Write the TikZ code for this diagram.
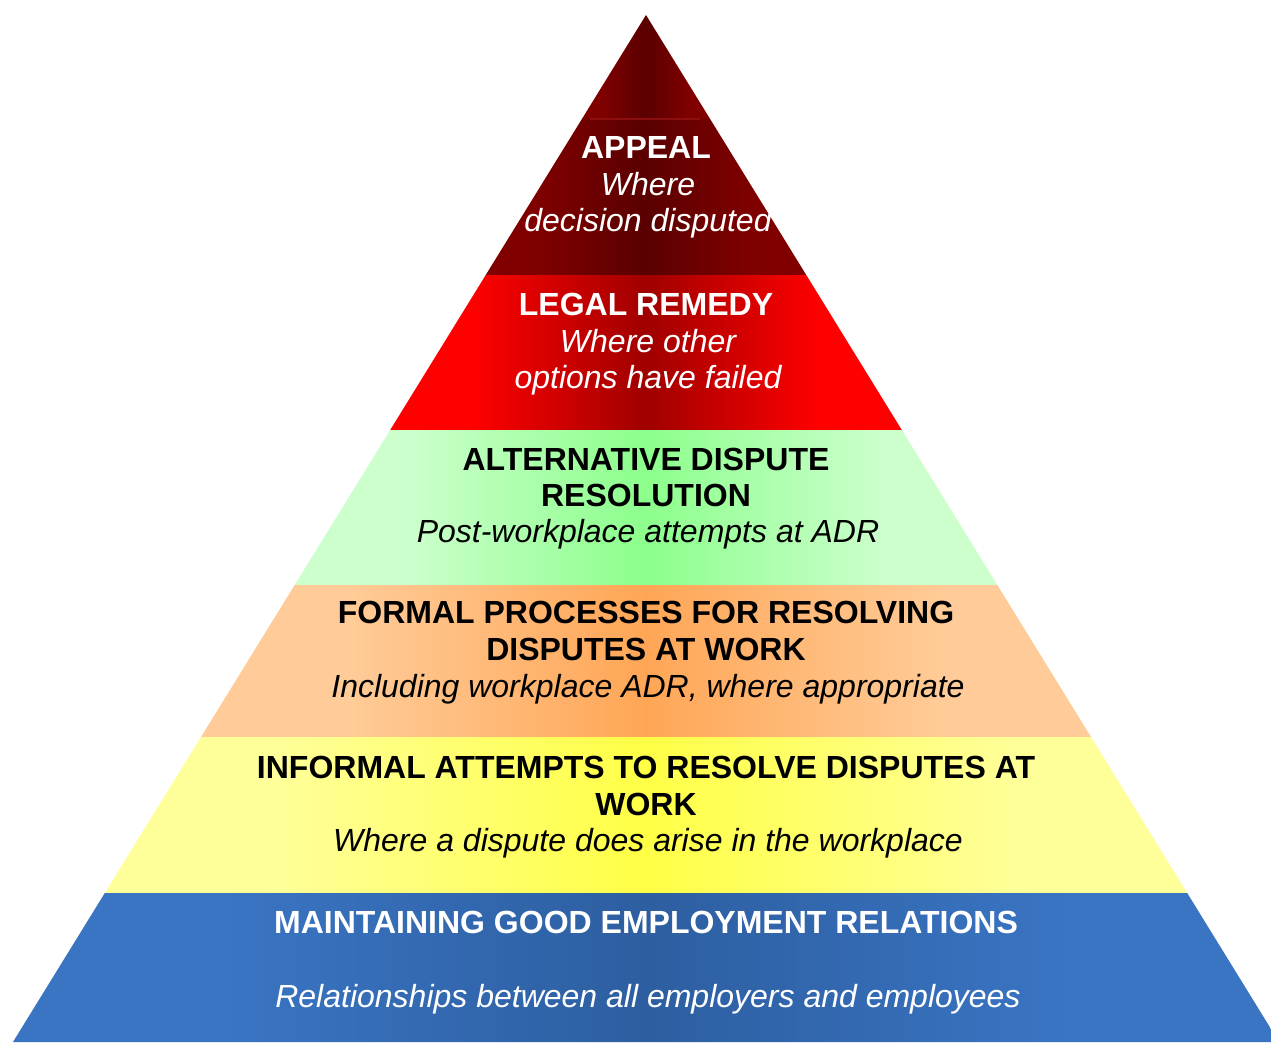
\documentclass[tikz,border=0pt]{standalone}
\usepackage{fontspec}
\setmainfont{Liberation Sans}
\usetikzlibrary{calc}

% band colours: edge tone and centre tone
\definecolor{appEdge}{RGB}{128,0,0}
\definecolor{appMid}{RGB}{90,0,0}
\definecolor{legEdge}{RGB}{255,0,0}
\definecolor{legMid}{RGB}{160,0,0}
\definecolor{adrEdge}{RGB}{204,255,204}
\definecolor{adrMid}{RGB}{140,255,140}
\definecolor{forEdge}{RGB}{255,204,153}
\definecolor{forMid}{RGB}{255,166,86}
\definecolor{infEdge}{RGB}{255,255,153}
\definecolor{infMid}{RGB}{255,255,70}
\definecolor{relEdge}{RGB}{58,117,196}
\definecolor{relMid}{RGB}{45,94,160}
\definecolor{seam}{RGB}{150,18,18}

% horizontal shadings: flat near the sides, darkest in the middle
% (the 25bp..75bp part is stretched over the path's width)
\newcommand\bandshading[3]{%
  \pgfdeclarehorizontalshading{#1}{100bp}{%
    color(0bp)=(#2); color(25bp)=(#2); color(33bp)=(#2);
    color(50bp)=(#3);
    color(67bp)=(#2); color(75bp)=(#2); color(100bp)=(#2)}}
\bandshading{appShade}{appEdge}{appMid}
\bandshading{legShade}{legEdge}{legMid}
\bandshading{adrShade}{adrEdge}{adrMid}
\bandshading{forShade}{forEdge}{forMid}
\bandshading{infShade}{infEdge}{infMid}
\bandshading{relShade}{relEdge}{relMid}

\begin{document}
\begin{tikzpicture}[x=1pt,y=-1pt,
  head/.style={font=\fontsize{32}{36}\selectfont\bfseries, inner sep=0pt, anchor=base},
  sub/.style={font=\fontsize{32}{36}\selectfont\itshape, inner sep=0pt, anchor=base, xshift=2pt},
  light/.style={text=white},
  dark/.style={text=black}]

\useasboundingbox (0,0) rectangle (1271,1042);

% pyramid edges: apex and slope of the sides
\def\ax{646}\def\ay{15}\def\sl{0.6164}
\newcommand\bandpath[2]{%
  (\ax-\sl*#1+\sl*\ay,#1) -- (\ax+\sl*#1-\sl*\ay,#1) --
  (\ax+\sl*#2-\sl*\ay,#2) -- (\ax-\sl*#2+\sl*\ay,#2) -- cycle}

\begin{scope}
\clip (0,0) rectangle (1271,1042);
% top: apex triangle and the rest of the appeal band
\shade[shading=appShade] (\ax,\ay) -- (\ax+\sl*119-\sl*\ay,119) -- (\ax-\sl*119+\sl*\ay,119) -- cycle;
\shade[shading=appShade] \bandpath{118.5}{275.5};
\draw[seam, line width=1.2pt, opacity=0.8] (590,119) -- (700,119);
\shade[shading=legShade] \bandpath{275}{430.5};
\shade[shading=adrShade] \bandpath{430}{585.5};
\shade[shading=forShade] \bandpath{585}{737.5};
\shade[shading=infShade] \bandpath{737}{893.5};
\shade[shading=relShade] \bandpath{893}{1042};
\end{scope}

% appeal
\node[head,light] (appT) at (646,158) {APPEAL};
\node[sub,light]  (appA) at (646,195) {Where};
\node[sub,light]  (appB) at (646,231) {decision disputed};

% legal remedy
\node[head,light] (legT) at (646,315) {LEGAL REMEDY};
\node[sub,light]  (legA) at (646,352) {Where other};
\node[sub,light]  (legB) at (646,388) {options have failed};

% alternative dispute resolution
\node[head,dark] (adrT) at (646,470) {ALTERNATIVE DISPUTE};
\node[head,dark] (adrU) at (646,506) {RESOLUTION};
\node[sub,dark]  (adrA) at (646,542) {Post-workplace attempts at ADR};

% formal processes
\node[head,dark] (forT) at (646,623) {FORMAL PROCESSES FOR RESOLVING};
\node[head,dark] (forU) at (646,660) {DISPUTES AT WORK};
\node[sub,dark]  (forA) at (646,697) {Including workplace ADR, where appropriate};

% informal attempts
\node[head,dark] (infT) at (646,778) {INFORMAL ATTEMPTS TO RESOLVE DISPUTES AT};
\node[head,dark] (infU) at (646,815) {WORK};
\node[sub,dark]  (infA) at (646,851) {Where a dispute does arise in the workplace};

% employment relations
\node[head,light] (relT) at (646,933) {MAINTAINING GOOD EMPLOYMENT RELATIONS};
\node[sub,light]  (relA) at (646,1007) {Relationships between all employers and employees};
\end{tikzpicture}
\end{document}
